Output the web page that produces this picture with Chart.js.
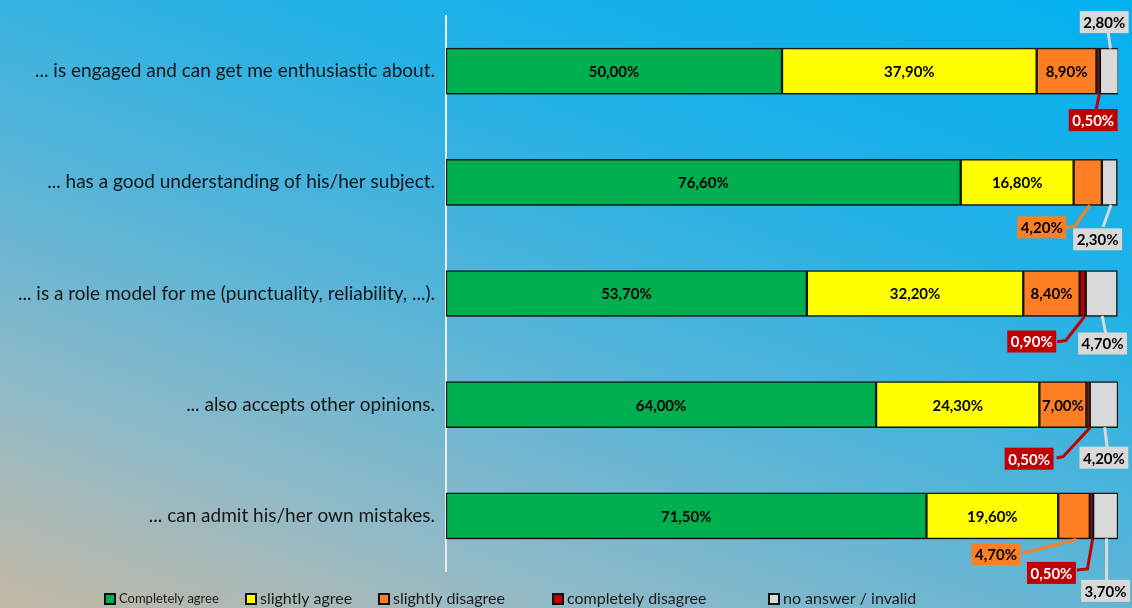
<!DOCTYPE html>
<html>
<head>
<meta charset="utf-8">
<script src="https://cdn.jsdelivr.net/npm/chart.js@4.4.1/dist/chart.umd.min.js"></script>
<style>
html, body { margin: 0; padding: 0; }
body {
  width: 1132px; height: 608px; overflow: hidden;
  background: linear-gradient(200deg, #02b0f0 0%, #22b1e6 30%, #56b4d8 55%, #94bac6 80%, #c4b8a4 100%);
}
#wrap { position: relative; width: 1132px; height: 608px; }
</style>
</head>
<body>
<div id="wrap"><canvas id="chart"></canvas></div>
<script>
// data (percent)
const categories = [
  '... is engaged and can get me enthusiastic about.',
  '... has a good understanding of his/her subject.',
  '... is a role model for me (punctuality, reliability, ...).',
  '... also accepts other opinions.',
  '... can admit his/her own mistakes.'
];
const seriesNames = ['Completely agree', 'slightly agree', 'slightly disagree', 'completely disagree', 'no answer / invalid'];
const completelyAgree    = [50.0, 76.6, 53.7, 64.0, 71.5];
const slightlyAgree      = [37.9, 16.8, 32.2, 24.3, 19.6];
const slightlyDisagree   = [8.9, 4.2, 8.4, 7.0, 4.7];
const completelyDisagree = [0.5, 0, 0.9, 0.5, 0.5];
const noAnswer           = [2.8, 2.3, 4.7, 4.2, 3.7];

const colors = ['#00b050', '#ffff00', '#fd7e23', '#c00000', '#d9d9d9'];
const FONT = 'Lato, "Open Sans", sans-serif';

// callout label placement for small segments (offset from segment centre / bar edge)
const callouts = {
  2: [null, {dx: -46, dy: 22, edge: 'bottom', path: [[33, -1], [25, 0]]}, null, null,
      {dx: -78, dy: 15, edge: 'bottom', path: [[28, -1]]}],
  3: [{dx: -5, dy: 26, edge: 'bottom', path: [[3, -11]]}, null,
      {dx: -51, dy: 25, edge: 'bottom', path: [[34, -1], [27, 0]]},
      {dx: -59, dy: 31, edge: 'bottom', path: [[34, -2], [29, -1]]},
      {dx: -40, dy: 34, edge: 'bottom', path: [[36, -4], [27, -3]]}],
  4: [{dx: -5, dy: -26, edge: 'top', path: [[4, 11]]},
      {dx: -12, dy: 34, edge: 'bottom', path: [[6, -14]]},
      {dx: 1, dy: 27, edge: 'bottom', path: [[3, -11]]},
      {dx: 0, dy: 30, edge: 'bottom', path: [[3, -12]]},
      {dx: 0, dy: 52, edge: 'bottom', path: [[1, -11]]}]
};
const calloutText = {2: '#000', 3: '#fff', 4: '#000'};

const legendX = [104, 245, 378, 552, 768];
const legendSize = [13, 16, 16, 16, 16];

function fmt(v) { return v.toFixed(2).replace('.', ',') + '%'; }

const shadowPlugin = {
  id: 'barShadow',
  beforeDatasetsDraw(chart) {
    const c = chart.ctx;
    c.save();
    c.shadowColor = 'rgba(0,0,0,0.35)';
    c.shadowBlur = 4;
    c.shadowOffsetY = 3;
  },
  afterDatasetsDraw(chart) { chart.ctx.restore(); }
};

const labelPlugin = {
  id: 'segLabels',
  afterDatasetsDraw(chart) {
    const c = chart.ctx;
    c.save();
    c.textAlign = 'center';
    c.textBaseline = 'middle';
    chart.data.datasets.forEach((ds, di) => {
      const meta = chart.getDatasetMeta(di);
      meta.data.forEach((bar, i) => {
        const v = ds.data[i];
        if (!v) return;
        const co = callouts[di] && callouts[di][i];
        const cx = (bar.x + bar.base) / 2;
        const top = bar.y - bar.height / 2;
        const bottom = bar.y + bar.height / 2;
        if (!co) {
          c.font = 'bold 15px ' + FONT;
          c.fillStyle = '#000';
          c.fillText(fmt(v), cx, bar.y + 1);
          return;
        }
        const ey = co.edge === 'top' ? top : bottom;
        const lx = cx + co.dx, ly = ey + co.dy;
        // leader line
        c.strokeStyle = colors[di];
        c.lineWidth = 3;
        c.lineCap = 'square';
        c.beginPath();
        c.moveTo(cx + 1, ey + (co.edge === 'top' ? -1 : 1));
        co.path.forEach(p => c.lineTo(lx + p[0], ly + p[1]));
        c.stroke();
        // box
        c.font = 'bold 15px ' + FONT;
        const t = fmt(v);
        const w = c.measureText(t).width + 7;
        c.fillStyle = colors[di];
        c.fillRect(lx - w / 2, ly - 11, w, 22);
        c.fillStyle = calloutText[di];
        c.fillText(t, lx, ly + 1);
      });
    });
    c.restore();
  }
};

const legendPlugin = {
  id: 'customLegend',
  afterDraw(chart) {
    const c = chart.ctx;
    c.save();
    c.textBaseline = 'middle';
    c.textAlign = 'left';
    seriesNames.forEach((name, i) => {
      const x = legendX[i], y = 599;
      c.fillStyle = '#111';
      c.fillRect(x, y - 6, 12, 12);
      c.fillStyle = colors[i];
      c.fillRect(x + 2, y - 4, 8, 8);
      c.font = legendSize[i] + 'px ' + FONT;
      c.fillStyle = '#1a1a1a';
      c.fillText(name, x + 15, y);
    });
    c.restore();
  }
};

const allSeries = [completelyAgree, slightlyAgree, slightlyDisagree, completelyDisagree, noAnswer];

new Chart(document.getElementById('chart'), {
  type: 'bar',
  data: {
    labels: categories,
    datasets: allSeries.map((d, i) => ({
      label: seriesNames[i],
      data: d,
      backgroundColor: colors[i],
      borderColor: '#1a1a1a',
      borderWidth: 1.5,
      borderSkipped: false,
      barThickness: 46
    }))
  },
  options: {
    indexAxis: 'y',
    responsive: true,
    maintainAspectRatio: false,
    animation: false,
    layout: { padding: { top: 15.5, bottom: 36.5, right: 14, left: 0 } },
    plugins: { legend: { display: false }, tooltip: { enabled: false } },
    scales: {
      x: { stacked: true, min: 0, max: 100, display: false },
      y: {
        stacked: true,
        grid: { display: false },
        border: { color: '#ececec', width: 2 },
        ticks: { color: '#161616', font: { family: FONT, size: 19 }, padding: 3 },
        afterFit(scale) { scale.width = 446; }
      }
    }
  },
  plugins: [shadowPlugin, labelPlugin, legendPlugin]
});
</script>
</body>
</html>
